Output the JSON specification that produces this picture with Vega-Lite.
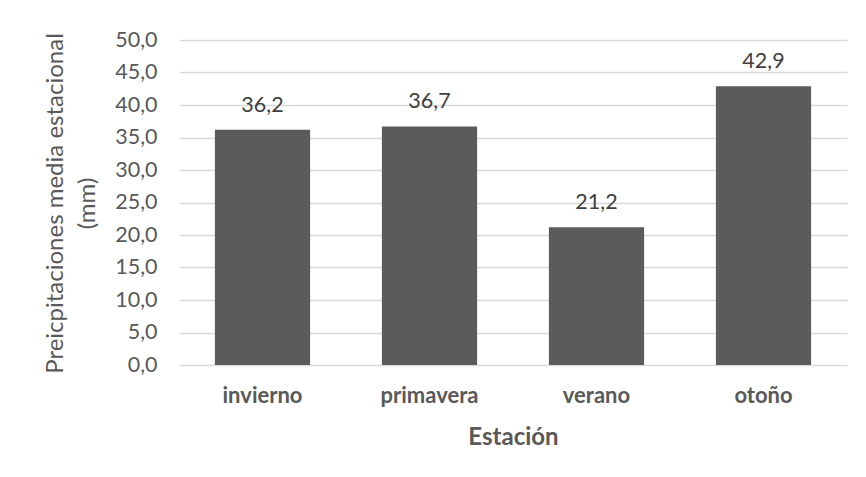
{
  "$schema": "https://vega.github.io/schema/vega-lite/v6.json",
  "autosize": {"type": "none"},
  "padding": {"left": 179, "top": 40, "right": 19, "bottom": 112},
  "width": 668,
  "height": 325,
  "background": "white",
  "data": {"values": [
    {"estacion": "invierno", "valor": 36.2},
    {"estacion": "primavera", "valor": 36.7},
    {"estacion": "verano", "valor": 21.2},
    {"estacion": "otoño", "valor": 42.9}
  ]},
  "encoding": {
    "x": {
      "field": "estacion", "type": "nominal", "sort": null,
      "scale": {"paddingInner": 0.43, "paddingOuter": 0.215},
      "axis": {
        "title": "Estación", "labelAngle": 0, "domain": false, "ticks": false,
        "labelFont": "Lato", "labelFontWeight": "bold", "labelFontSize": 22, "labelColor": "#595959",
        "labelPadding": 20,
        "titleFont": "Lato", "titleFontWeight": "bold", "titleFontSize": 24, "titleColor": "#595959",
        "titleY": 72, "titleBaseline": "middle"
      }
    },
    "y": {
      "field": "valor", "type": "quantitative",
      "scale": {"domain": [0, 50], "nice": false},
      "axis": {
        "title": ["Preicpitaciones media estacional", "(mm)"],
        "values": [0, 5, 10, 15, 20, 25, 30, 35, 40, 45, 50],
        "format": ".1f", "domain": false, "ticks": false,
        "grid": true, "gridColor": "#d9d9d9", "gridWidth": 1.3,
        "labelFont": "Lato", "labelFontSize": 21.5, "labelColor": "#595959", "labelPadding": 22,
        "titleFont": "Lato", "titleFontSize": 24, "titleFontWeight": "normal", "titleColor": "#595959",
        "titleAngle": -90, "titleBaseline": "top", "titleLineHeight": 32,
        "titleX": -136, "titleY": 163, "titleAlign": "center"
      }
    }
  },
  "layer": [
    {"mark": {"type": "bar", "color": "#5b5b5b"}},
    {
      "mark": {"type": "text", "font": "Lato", "fontSize": 21.5, "color": "#404040", "baseline": "alphabetic", "dy": -18},
      "encoding": {"text": {"field": "valor", "type": "quantitative", "format": ".1f"}}
    }
  ],
  "config": {
    "view": {"stroke": null},
    "locale": {"number": {"decimal": ",", "thousands": ".", "grouping": [3], "currency": ["", " €"]}}
  }
}
